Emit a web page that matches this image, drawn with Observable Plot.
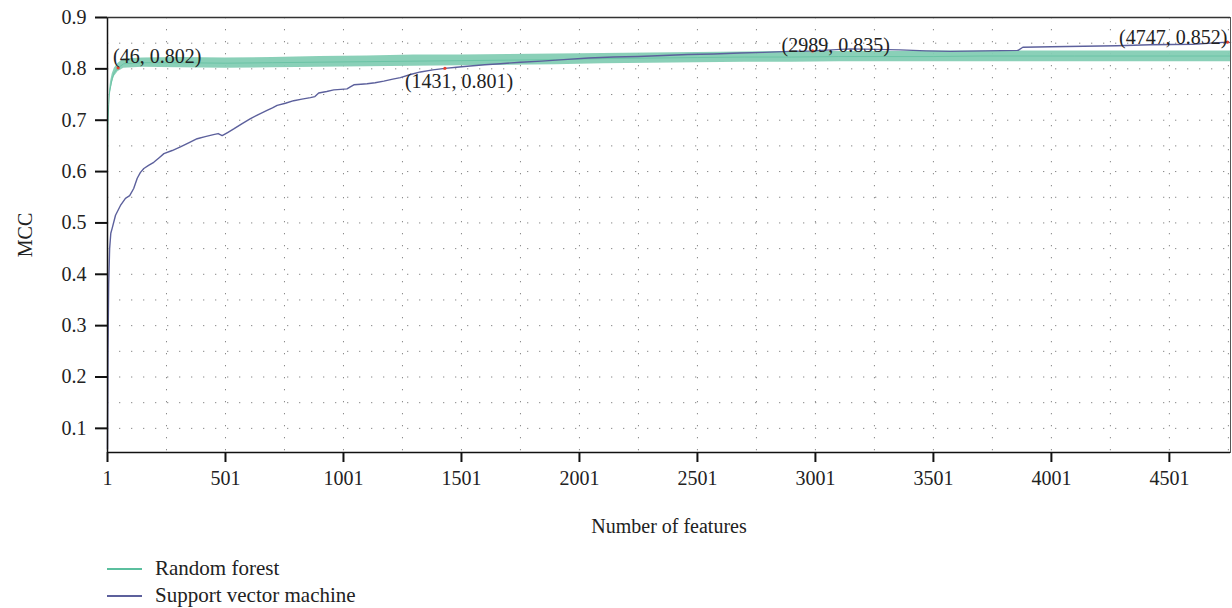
<!DOCTYPE html>
<html>
<head>
<meta charset="utf-8">
<script src="https://cdn.jsdelivr.net/npm/d3@7"></script>
<script src="https://cdn.jsdelivr.net/npm/@observablehq/plot@0.6"></script>
<style>
  html, body { margin: 0; padding: 0; background: #fff; }
  #chart { width: 1232px; font-family: "Liberation Serif", "DejaVu Serif", serif; }
  .legend { padding: 10px 0 0 107px; font-family: "Liberation Serif", serif; font-size: 21px; color: #222; }
  .legend .row { height: 27px; display: flex; align-items: center; }
  .legend svg { margin-right: 13px; }
</style>
</head>
<body>
<div id="chart"></div>
<script>
// ---- Data ----
const seriesNames = ["Random forest", "Support vector machine"];
const seriesColors = ["#5bbf9e", "#5c609c"];

// Random forest: noisy band (lower / centre / upper envelope)
const rfFeatures = [1, 3, 6, 10, 14, 21, 30, 46, 70, 150, 300, 500, 700, 900, 1100, 1300, 1500, 1700, 1900, 2100, 2300, 2500, 2700, 2900, 3100, 3300, 3500, 3700, 3900, 4100, 4300, 4500, 4760];
const rfCenter   = [0.60, 0.69, 0.73, 0.755, 0.765, 0.781, 0.793, 0.802, 0.810, 0.812, 0.812, 0.811, 0.812, 0.813, 0.814, 0.815, 0.816, 0.817, 0.818, 0.820, 0.821, 0.822, 0.823, 0.823, 0.824, 0.824, 0.824, 0.825, 0.825, 0.825, 0.825, 0.825, 0.825];
const rfLow      = [0.60, 0.69, 0.73, 0.750, 0.755, 0.772, 0.785, 0.795, 0.801, 0.803, 0.802, 0.801, 0.802, 0.803, 0.804, 0.805, 0.806, 0.807, 0.808, 0.810, 0.811, 0.812, 0.813, 0.813, 0.814, 0.814, 0.814, 0.814, 0.814, 0.814, 0.814, 0.814, 0.814];
const rfHigh     = [0.60, 0.69, 0.73, 0.760, 0.775, 0.790, 0.801, 0.811, 0.819, 0.821, 0.822, 0.821, 0.822, 0.824, 0.825, 0.827, 0.827, 0.828, 0.829, 0.830, 0.831, 0.832, 0.833, 0.834, 0.834, 0.834, 0.835, 0.835, 0.835, 0.835, 0.835, 0.835, 0.835];

// Support vector machine
const svmFeatures = [1, 3, 6, 10, 15, 21, 35, 56, 77, 95, 112, 127, 140, 155, 175, 197, 220, 240, 275, 310, 345, 381, 415, 450, 470, 487, 510, 536, 570, 607, 640, 677, 700, 720, 755, 790, 825, 861, 880, 896, 930, 960, 990, 1016, 1030, 1045, 1075, 1101, 1135, 1172, 1210, 1242, 1285, 1327, 1380, 1431, 1480, 1525, 1600, 1666, 1751, 1840, 1934, 2040, 2146, 2250, 2358, 2460, 2570, 2680, 2782, 2890, 2989, 3070, 3149, 3250, 3361, 3470, 3573, 3720, 3860, 3880, 4000, 4138, 4280, 4420, 4600, 4747, 4760];
const svmValues   = [0.06, 0.25, 0.38, 0.45, 0.48, 0.49, 0.515, 0.534, 0.548, 0.553, 0.567, 0.587, 0.598, 0.606, 0.612, 0.618, 0.627, 0.635, 0.641, 0.648, 0.656, 0.664, 0.668, 0.672, 0.674, 0.670, 0.676, 0.683, 0.693, 0.703, 0.711, 0.719, 0.724, 0.729, 0.733, 0.738, 0.741, 0.744, 0.746, 0.753, 0.756, 0.759, 0.760, 0.761, 0.765, 0.769, 0.770, 0.771, 0.773, 0.776, 0.780, 0.783, 0.789, 0.794, 0.798, 0.801, 0.803, 0.805, 0.808, 0.810, 0.813, 0.815, 0.818, 0.821, 0.823, 0.824, 0.826, 0.828, 0.829, 0.831, 0.832, 0.834, 0.835, 0.837, 0.839, 0.838, 0.837, 0.835, 0.834, 0.835, 0.836, 0.842, 0.843, 0.844, 0.845, 0.847, 0.848, 0.852, 0.851];

// Annotated maxima
const annFeatures = [46, 1431, 2989, 4747];
const annValues   = [0.802, 0.801, 0.835, 0.852];
const annLabels   = ["(46, 0.802)", "(1431, 0.801)", "(2989, 0.835)", "(4747, 0.852)"];

// Axes
const xTicks = [1, 501, 1001, 1501, 2001, 2501, 3001, 3501, 4001, 4501];
const xGrid  = [251, 501, 751, 1001, 1251, 1501, 1751, 2001, 2251, 2501, 2751, 3001, 3251, 3501, 3751, 4001, 4251, 4501, 4751];
const yTicks = [0.1, 0.2, 0.3, 0.4, 0.5, 0.6, 0.7, 0.8, 0.9];
const yGrid  = [0.1, 0.15, 0.2, 0.25, 0.3, 0.35, 0.4, 0.45, 0.5, 0.55, 0.6, 0.65, 0.7, 0.75, 0.8, 0.85];

// ---- Build tables ----
const rf = rfFeatures.map((f, i) => ({f, c: rfCenter[i], lo: rfLow[i], hi: rfHigh[i]}));
const svm = svmFeatures.map((f, i) => ({f, v: svmValues[i]}));
const ann = annFeatures.map((f, i) => ({f, v: annValues[i], label: annLabels[i]}));

const annOffsets = [
  {dx: -5, dy: -11, anchor: "start"},
  {dx: -40, dy: 13, anchor: "start"},
  {dx: -31, dy: -5, anchor: "start"},
  {dx: 0, dy: -5, anchor: "end"}
];

const chart = Plot.plot({
  width: 1232,
  height: 545,
  marginTop: 17,
  marginLeft: 107,
  marginRight: 2,
  marginBottom: 93,
  style: {fontFamily: "Liberation Serif, serif", fontSize: "20px", color: "#222", background: "#fff"},
  x: {domain: [1, 4760]},
  y: {domain: [0.053, 0.9]},
  marks: [
    Plot.ruleY(yGrid, {stroke: "#888", strokeWidth: 1, strokeDasharray: "1.3,10.7"}),
    Plot.ruleX(xGrid, {stroke: "#888", strokeWidth: 1, strokeDasharray: "1.3,10.7"}),
    Plot.areaY(rf, {x: "f", y1: "lo", y2: "hi", fill: "#84cdb4", fillOpacity: 0.95, curve: "linear"}),
    Plot.line(rf, {x: "f", y: "c", stroke: "#6cc4a6", strokeWidth: 1}),
    Plot.line(svm, {x: "f", y: "v", stroke: seriesColors[1], strokeWidth: 1.4}),
    Plot.dot(ann, {x: "f", y: "v", r: 1.6, fill: "#e8412c", stroke: "none"}),
    ...annOffsets.map((o, i) => Plot.text(ann.filter((d, j) => j === i), {
      x: "f", y: "v", text: "label", dx: o.dx, dy: o.dy, textAnchor: o.anchor,
      fontSize: 20, fill: "#222"
    })),
    Plot.frame({stroke: "#555", strokeWidth: 1}),
    Plot.axisX({ticks: xTicks, tickFormat: d => String(d), tickSize: 10, tickPadding: 8,
      label: "Number of features", labelAnchor: "center", labelArrow: "none", labelOffset: 80,
      stroke: "#111", strokeWidth: 2, fontSize: 20}),
    Plot.axisY({ticks: yTicks, tickFormat: d => d.toFixed(1), tickSize: 12, tickPadding: 9,
      label: "MCC", labelAnchor: "center", labelArrow: "none", labelOffset: 90,
      stroke: "#111", strokeWidth: 2, fontSize: 20}),
    Plot.ruleY([0.053], {stroke: "#111", strokeWidth: 1.5}),
    Plot.ruleX([1], {stroke: "#111", strokeWidth: 1.5}),
    Plot.ruleY([0.9], {stroke: "#333", strokeWidth: 1.5})
  ]
});
document.getElementById("chart").appendChild(chart);

// Legend below the SVG
const legend = document.createElement("div");
legend.className = "legend";
seriesNames.forEach((name, i) => {
  const row = document.createElement("div");
  row.className = "row";
  row.innerHTML = `<svg width="35" height="4"><line x1="0" y1="2" x2="35" y2="2" stroke="${seriesColors[i]}" stroke-width="2.2"/></svg><span>${name}</span>`;
  legend.appendChild(row);
});
document.getElementById("chart").appendChild(legend);
</script>
</body>
</html>
